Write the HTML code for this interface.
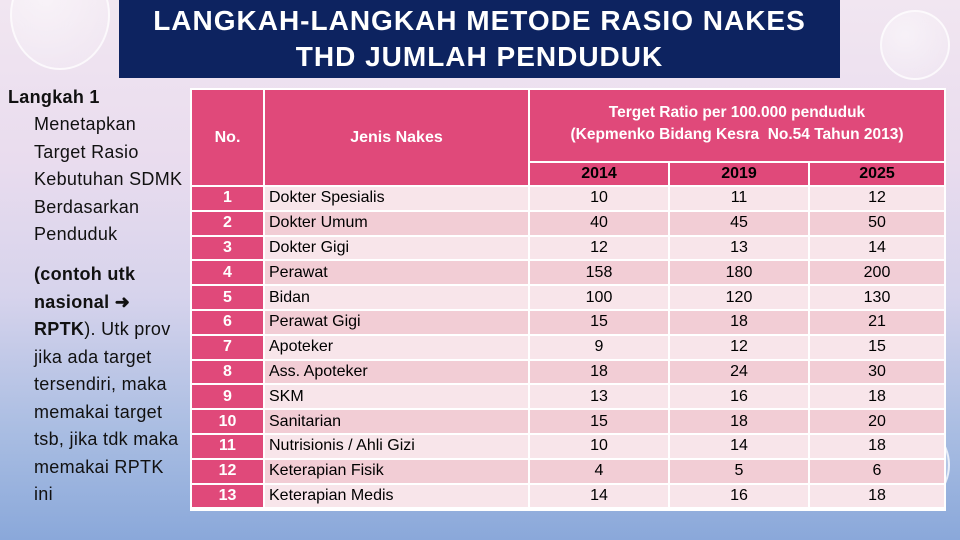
<!DOCTYPE html>
<html><head><meta charset="utf-8"><style>
*{margin:0;padding:0;box-sizing:border-box}
body{width:960px;height:540px;overflow:hidden;position:relative;font-family:"Liberation Sans",sans-serif;
background:linear-gradient(180deg,#f1e6f1 0%,#e9dcee 30%,#d6d3ec 55%,#a9bde2 80%,#8aa8da 100%)}
.bub{position:absolute;border-radius:50%;border:2px solid rgba(255,255,255,.7);background:radial-gradient(circle at 35% 35%,rgba(255,255,255,.5),rgba(255,255,255,.08))}
#title{position:absolute;left:119px;top:0;width:721px;height:78px;background:#0d2360;color:#fff;text-align:center;font-size:28px;font-weight:bold;letter-spacing:1px;line-height:36px;padding-top:3px;white-space:nowrap}
.lt{position:absolute;font-size:18px;color:#111;line-height:27.5px;letter-spacing:.3px}
.c{position:absolute;font-size:16px;color:#000;display:flex;align-items:center;justify-content:center}
.h{background:#e0497a;color:#fff;font-weight:bold}
</style></head><body>
<div class="bub" style="left:10px;top:-40px;width:100px;height:110px"></div>
<div class="bub" style="left:860px;top:420px;width:90px;height:90px"></div>
<div class="bub" style="left:880px;top:10px;width:70px;height:70px"></div>
<div id="title">LANGKAH-LANGKAH METODE RASIO NAKES<br>THD JUMLAH PENDUDUK</div>
<div class="lt" style="left:8px;top:84px;font-weight:bold">Langkah 1</div>
<div class="lt" style="left:34px;top:111px">Menetapkan<br>Target Rasio<br>Kebutuhan SDMK<br>Berdasarkan<br>Penduduk</div>
<div class="lt" style="left:34px;top:261px"><b>(contoh utk<br>nasional &#10140;<br>RPTK</b>). Utk prov<br>jika ada target<br>tersendiri, maka<br>memakai target<br>tsb, jika tdk maka<br>memakai RPTK<br>ini</div>
<div id="tbl" style="position:absolute;left:190px;top:88px;width:756px;height:423px;background:#fff"></div>
<script>
const names=["Dokter Spesialis","Dokter Umum","Dokter Gigi","Perawat","Bidan","Perawat Gigi","Apoteker","Ass. Apoteker","SKM","Sanitarian","Nutrisionis / Ahli Gizi","Keterapian Fisik","Keterapian Medis"];
const y2014=[10,40,12,158,100,15,9,18,13,15,10,4,14];
const y2019=[11,45,13,180,120,18,12,24,16,18,14,5,16];
const y2025=[12,50,14,200,130,21,15,30,18,20,18,6,18];
const years=["2014","2019","2025"];
function cell(x,y,w,h,txt,cls,bg,name,extra){
 const d=document.createElement('div');
 d.className='c '+(cls||'');
 d.style.cssText=`left:${x}px;top:${y}px;width:${w}px;height:${h}px;`+(bg?`background:${bg};`:'')+(extra||'');
 d.innerHTML=txt;
 
 
 document.body.appendChild(d);
}
const colX=[192,265,530,670,810],colW=[71,263,138,138,134];
cell(192,90,71,95,'No.','h',null,'header-no');
cell(265,90,263,95,'Jenis Nakes','h',null,'header-jenis');
cell(530,90,414,71,'Terget Ratio per 100.000 penduduk<br>(Kepmenko Bidang Kesra&nbsp; No.54 Tahun 2013)','h',null,'header-target','text-align:center;line-height:22px;font-size:15.5px;padding-bottom:4px');
years.forEach((yr,i)=>cell(colX[2+i],163,colW[2+i],22,yr,'h',null,'header-year','color:#000'));
const top0=187,rh=24.8;
names.forEach((n,i)=>{
 const y=top0+i*rh,bg=i%2?'#f2cdd5':'#f8e5ea';
 cell(192,y,71,rh-2,String(i+1),'h',null,'row-number');
 cell(265,y,263,rh-2,n,'',bg,'row-jenis','justify-content:flex-start;padding-left:4px');
 [y2014,y2019,y2025].forEach((arr,j)=>cell(colX[2+j],y,colW[2+j],rh-2,String(arr[i]),'',bg,'row-value'));
});
</script>
</body></html>
